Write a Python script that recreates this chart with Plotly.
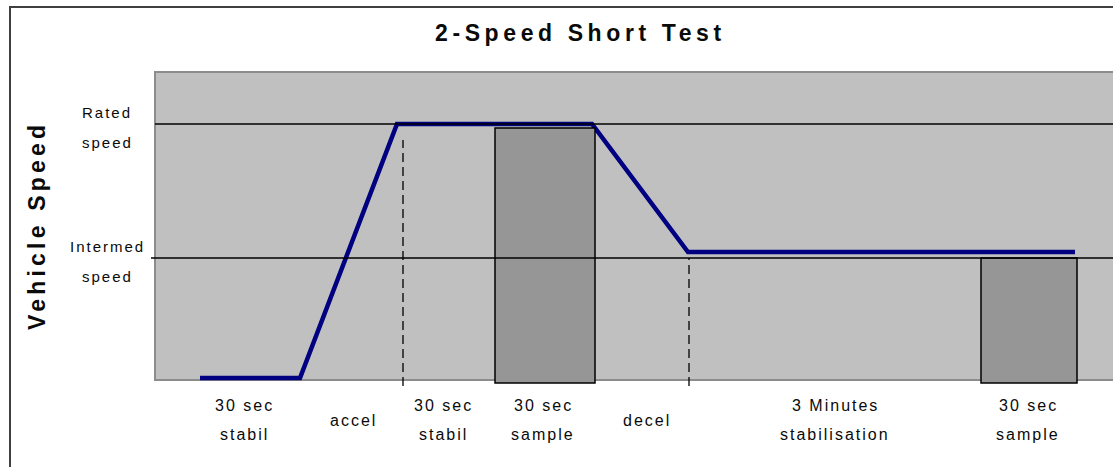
import plotly.graph_objects as go

# ---- data -------------------------------------------------------------
# speed levels (percent of rated speed)
RATED = 100.0
INTERMED = 47.2

# drive trace: schematic test time (s) against vehicle speed
trace_t = [0, 30, 59.1, 117.6, 146.4, 262.5]
trace_speed = [0, 0, 100, 100, 49.6, 49.6]

# sampling windows
sample_start = [88.5, 234.3]
sample_end = [118.5, 263.1]
sample_top = [98.4, 47.2]

# dashed phase markers
marker_t = [60.9, 146.7]
marker_top = [93.7, 47.2]

# phase captions under the time axis
phase_t = [13.2, 45.9, 72.9, 102.9, 134.1, 190.5, 248.4]
phase_labels = ["30 sec<br>stabil", "accel", "30 sec<br>stabil", "30 sec<br>sample",
                "decel", "3 Minutes<br>stabilisation", "30 sec<br>sample"]

# speed level captions
level_values = [RATED, INTERMED]
level_labels = ["Rated<br>speed", "Intermed<br>speed"]

TITLE = "2-Speed Short Test"
Y_TITLE = "Vehicle Speed"

# ---- canvas geometry ----------------------------------------------------
W, H = 1113, 467
X0_PX, SEC_PER_PX = 200.0, 0.3          # t = 0 position and horizontal scale
Y0_PX, PX_PER_UNIT = 378.0, 2.54         # speed = 0 position and vertical scale


def px_x(p):
    return (p - X0_PX) * SEC_PER_PX


def px_y(p):
    return (Y0_PX - p) / PX_PER_UNIT


FONT = "Liberation Sans, Arial, sans-serif"
TXT = "#0a0a0a"


def spaced(s, ls):
    return f'<span style="letter-spacing:{ls}px">{s}</span>'


fig = go.Figure()
shapes = []
annotations = []

# outer frame
shapes.append(dict(type="rect", xref="x", yref="y",
                   x0=px_x(10), x1=px_x(1140), y0=px_y(490), y1=px_y(7),
                   line=dict(color="#404040", width=2), fillcolor="rgba(0,0,0,0)",
                   layer="below"))

# plot window
win_left, win_right = px_x(155), px_x(1130)
shapes.append(dict(type="rect", xref="x", yref="y",
                   x0=win_left, x1=win_right, y0=px_y(380), y1=px_y(72),
                   line=dict(color="#8c8c8c", width=2), fillcolor="#c0c0c0",
                   layer="below"))

# sampling windows
for a, b, top in zip(sample_start, sample_end, sample_top):
    shapes.append(dict(type="rect", xref="x", yref="y",
                       x0=a, x1=b, y0=px_y(383), y1=top,
                       line=dict(color="#000000", width=1.5), fillcolor="#969696",
                       layer="above"))

# speed reference lines
ref_start = [win_left, px_x(151)]
for lvl, xs in zip(level_values, ref_start):
    shapes.append(dict(type="line", xref="x", yref="y",
                       x0=xs, x1=win_right, y0=lvl, y1=lvl,
                       line=dict(color="#000000", width=1.5), layer="above"))

# dashed phase markers
for t, top in zip(marker_t, marker_top):
    shapes.append(dict(type="line", xref="x", yref="y",
                       x0=t, x1=t, y0=px_y(386), y1=top,
                       line=dict(color="#000000", width=1.3, dash="9px,5px"),
                       layer="above"))

# drive trace
fig.add_trace(go.Scatter(x=trace_t, y=trace_speed, mode="lines",
                         line=dict(color="#000080", width=4.5),
                         hoverinfo="skip", showlegend=False))

# title
annotations.append(dict(x=580 / W, y=1 - 33 / H, xref="paper", yref="paper",
                        text=spaced(f"<b>{TITLE}</b>", 4.6), showarrow=False,
                        xanchor="center", yanchor="middle",
                        font=dict(family=FONT, size=23, color=TXT)))

# y axis title
annotations.append(dict(x=37 / W, y=1 - 226 / H, xref="paper", yref="paper",
                        text=spaced(f"<b>{Y_TITLE}</b>", 4.2), showarrow=False,
                        textangle=-90, xanchor="center", yanchor="middle",
                        font=dict(family=FONT, size=23, color=TXT)))

# level captions (two lines each, centred on the reference line)
LEVEL_GAP = 30
for lvl, lab in zip(level_values, level_labels):
    lines = lab.split("<br>")
    for i, ln in enumerate(lines):
        off = (i - (len(lines) - 1) / 2) * LEVEL_GAP + 3
        annotations.append(dict(x=px_x(107), y=lvl, xref="x", yref="y",
                                yshift=-off, text=spaced(ln, 2.0), showarrow=False,
                                xanchor="center", yanchor="middle",
                                font=dict(family=FONT, size=15, color=TXT)))

# phase captions
ROW_GAP = 29
ROW_MID = 420
for t, lab in zip(phase_t, phase_labels):
    lines = lab.split("<br>")
    for i, ln in enumerate(lines):
        ypx = ROW_MID + (i - (len(lines) - 1) / 2) * ROW_GAP
        annotations.append(dict(x=t, y=px_y(ypx), xref="x", yref="y",
                                text=spaced(ln, 2.0), showarrow=False,
                                xanchor="center", yanchor="middle",
                                font=dict(family=FONT, size=16, color=TXT)))

fig.update_layout(
    width=W, height=H,
    margin=dict(l=0, r=0, t=0, b=0),
    paper_bgcolor="white", plot_bgcolor="white",
    xaxis=dict(range=[px_x(0), px_x(W)], visible=False, fixedrange=True),
    yaxis=dict(range=[px_y(H), px_y(0)], visible=False, fixedrange=True),
    shapes=shapes, annotations=annotations,
    showlegend=False,
)

fig.write_html("out.html", config={"displayModeBar": False})
